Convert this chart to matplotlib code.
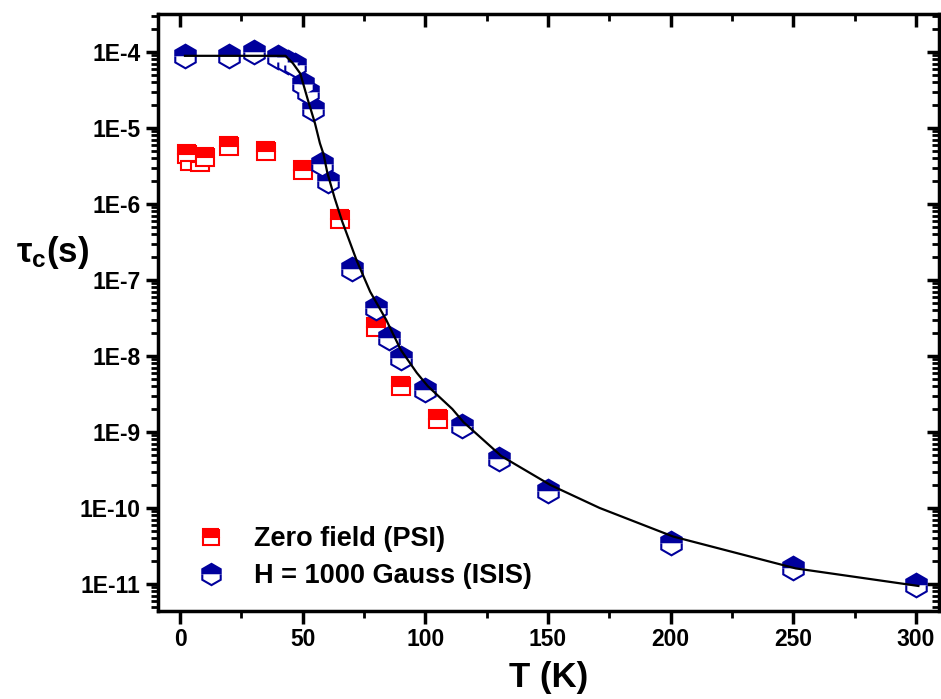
import numpy as np
import matplotlib
matplotlib.use('Agg')
import matplotlib.pyplot as plt
from matplotlib.ticker import FixedLocator, FixedFormatter, LogLocator, NullFormatter

plt.rcParams['font.family'] = ['Liberation Sans', 'DejaVu Sans']
plt.rcParams['mathtext.fontset'] = 'custom'
plt.rcParams['mathtext.bf'] = 'Liberation Sans:bold'
plt.rcParams['mathtext.rm'] = 'Liberation Sans:bold'

# zero field (PSI)
t_zf = [3, 4, 8, 10, 20, 35, 50, 65, 80, 90, 105]
tau_zf = [4.6e-6, 3.7e-6, 3.6e-6, 4.1e-6, 5.8e-6, 5.0e-6, 2.8e-6, 6.4e-7, 2.4e-8, 4.0e-9, 1.5e-9]

# H = 1000 G (ISIS)
t_h = [2, 20, 30, 40, 44, 47, 50, 52, 54, 58, 60.5, 70, 80, 85, 90, 100, 115, 130, 150, 200, 250, 300]
tau_h = [8.9e-5, 8.9e-5, 1.0e-4, 8.7e-5, 7.4e-5, 6.7e-5, 3.8e-5, 3.0e-5, 1.8e-5, 3.4e-6, 2.0e-6,
         1.4e-7, 4.3e-8, 1.7e-8, 9.3e-9, 3.6e-9, 1.2e-9, 4.4e-10, 1.65e-10, 3.5e-11, 1.6e-11, 9.6e-12]

# fit curve
t_fit = [2, 43, 46, 49, 52, 55, 57, 58.5, 60, 63, 66, 72, 77.5, 84, 90, 96.5, 101, 111, 115.5,
         131, 151, 171, 201, 251, 301]
tau_fit = [8.9e-5, 8.9e-5, 7.1e-5, 5.2e-5, 2.4e-5, 1.15e-5, 6.3e-6, 4.5e-6, 2.6e-6, 1.2e-6, 6.0e-7,
           1.8e-7, 7.0e-8, 3.0e-8, 1.2e-8, 6.0e-9, 4.0e-9, 2.0e-9, 1.35e-9, 4.8e-10, 2.0e-10, 1.0e-10,
           4.2e-11, 1.6e-11, 9.4e-12]

xticks = [0, 50, 100, 150, 200, 250, 300]
yticks = [1e-11, 1e-10, 1e-9, 1e-8, 1e-7, 1e-6, 1e-5, 1e-4]
ytick_labels = ['1E-11', '1E-10', '1E-9', '1E-8', '1E-7', '1E-6', '1E-5', '1E-4']

red = '#ff0000'
blue = '#00009c'

fig = plt.figure(figsize=(9.41, 6.99), dpi=100)
ax = fig.add_axes([158 / 941, 1 - 611 / 699, (939 - 158) / 941, (611 - 14) / 699])

ax.plot(t_zf, tau_zf, ls='none', marker='s', ms=12.5, fillstyle='top',
        mfc=red, mfcalt='white', mec=red, mew=1.5, label='Zero field (PSI)', zorder=3)
ax.plot(t_h, tau_h, ls='none', marker='h', ms=17, fillstyle='top',
        mfc=blue, mfcalt='white', mec=blue, mew=1.5, label='H = 1000 Gauss (ISIS)', zorder=4)
ax.plot(t_fit, tau_fit, color='black', lw=1.6, zorder=5)

ax.set_yscale('log')
ax.set_xlim(-9, 309.4)
ax.set_ylim(4.4e-12, 3.16e-4)

ax.xaxis.set_major_locator(FixedLocator(xticks))
ax.xaxis.set_minor_locator(FixedLocator([25, 75, 125, 175, 225, 275]))
ax.yaxis.set_major_locator(FixedLocator(yticks))
ax.yaxis.set_major_formatter(FixedFormatter(ytick_labels))
ax.yaxis.set_minor_locator(LogLocator(base=10, subs=np.arange(2, 10)))
ax.yaxis.set_minor_formatter(NullFormatter())

for s in ax.spines.values():
    s.set_linewidth(2.5)

ax.tick_params(axis='both', which='major', direction='out', length=9, width=2.5,
               labelsize=16.5)
ax.tick_params(axis='both', which='minor', direction='out', length=5, width=2)
ax.tick_params(axis='x', which='both', top=True)
ax.tick_params(axis='y', which='both', right=True)
for lab in ax.get_xticklabels() + ax.get_yticklabels():
    lab.set_fontweight('bold')

# mirrored ticks point inward
for t in ax.xaxis.get_major_ticks() + ax.xaxis.get_minor_ticks():
    t.tick2line.set_marker(matplotlib.lines.TICKDOWN)
for t in ax.yaxis.get_major_ticks() + ax.yaxis.get_minor_ticks():
    t.tick2line.set_marker(matplotlib.lines.TICKLEFT)

ax.set_xlabel('T (K)', fontsize=25, fontweight='bold', labelpad=7)
ax.set_ylabel(r'$\mathbf{\tau_c(s)}$', fontsize=25, rotation=0, labelpad=0)
ax.yaxis.set_label_coords(-0.135, 0.57)

leg = ax.legend(loc='lower left', bbox_to_anchor=(0.016, -0.004), frameon=False,
                prop={'weight': 'bold', 'size': 19.5}, handletextpad=1.0,
                labelspacing=0.4, markerscale=0.9, handlelength=1.2)

fig.savefig('out.png', dpi=100)
